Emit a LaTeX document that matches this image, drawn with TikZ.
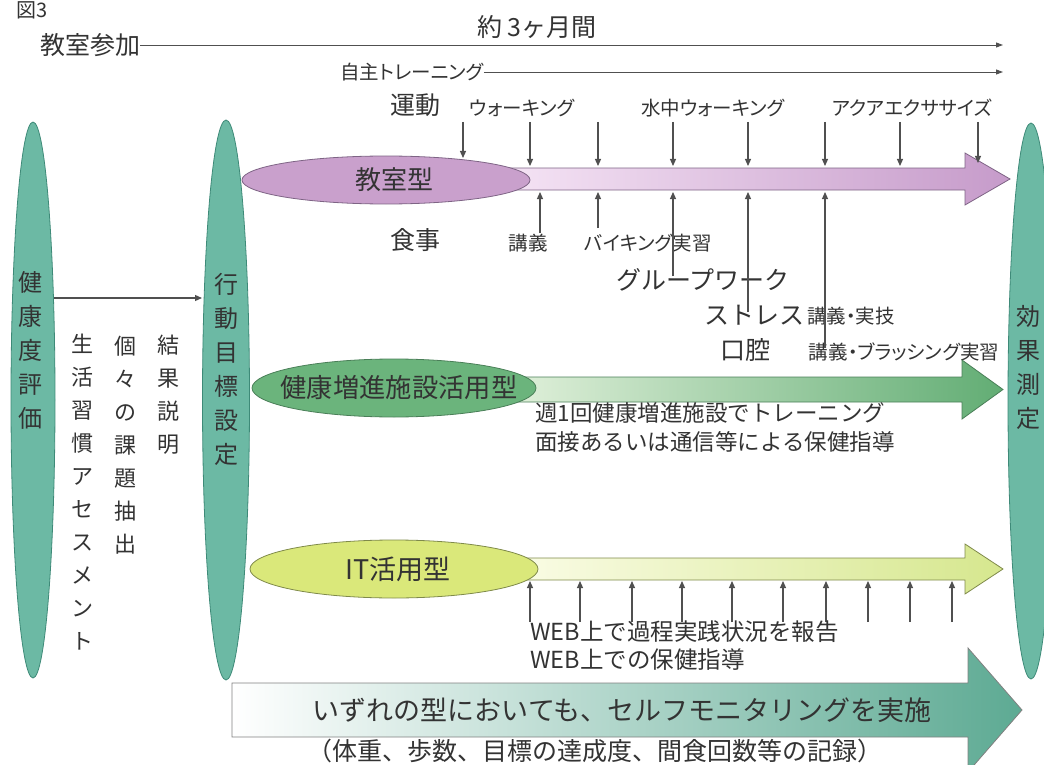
\documentclass[tikz,border=0pt]{standalone}
\usepackage{fontspec}
\setmainfont{Noto Sans CJK JP}
\newfontfamily\pfont{Noto Sans CJK JP}[RawFeature=+palt]
\usetikzlibrary{shapes.geometric,arrows.meta}
\definecolor{txt}{HTML}{333333}
\definecolor{lgray}{HTML}{505050}
\definecolor{tealfill}{HTML}{6CB9A4}
\definecolor{tealdark}{HTML}{3E8A78}
\definecolor{purpfill}{HTML}{C9A0CC}
\definecolor{purpdark}{HTML}{7E6485}
\definecolor{purpL}{HTML}{F5E4F5}
\definecolor{purpR}{HTML}{C69BCA}
\definecolor{grnfill}{HTML}{6BB47C}
\definecolor{grndark}{HTML}{4A7F58}
\definecolor{grnL}{HTML}{E0F0DA}
\definecolor{grnR}{HTML}{62AD74}
\definecolor{yelfill}{HTML}{DAE87A}
\definecolor{yeldark}{HTML}{7F8A4A}
\definecolor{yelL}{HTML}{FAFCE6}
\definecolor{yelR}{HTML}{D6E78E}
\definecolor{btmR}{HTML}{5DAA93}
\begin{document}
\begin{tikzpicture}[x=1pt,y=-1pt,
  big/.style={font=\fontsize{25}{28}\selectfont, text=txt, inner sep=0pt},
  small/.style={font=\pfont\fontsize{19.5}{22}\selectfont, text=txt, inner sep=0pt},
  mid/.style={font=\fontsize{22.5}{26}\selectfont, text=txt, inner sep=0pt},
  vtext/.style={font=\fontsize{24}{34}\selectfont, align=center, text=txt, inner sep=0pt},
  vtextb/.style={font=\fontsize{22}{33}\selectfont, align=center, text=txt, inner sep=0pt},
  arr/.style={draw=lgray, line width=1.2pt, -{Triangle[length=7pt,width=6pt]}},
  tl/.style={draw=lgray, line width=0.9pt, -{Triangle[length=7pt,width=5pt]}},
  bigell/.style={ellipse, draw=tealdark, fill=tealfill, line width=0.8pt, minimum width=44pt, minimum height=556pt, inner sep=0pt},
  typeell/.style={ellipse, line width=0.8pt, inner sep=0pt},
  typetext/.style={text=txt, inner sep=0pt},
  band/.style={line width=0.8pt}
]
\useasboundingbox (0,0) rectangle (1044,765);

% title
\node[font=\fontsize{20}{22}\selectfont, text=txt, anchor=west, inner sep=0pt] (fig) at (16,10) {図3};

% timelines
\node[big] (yaku) at (537,27) {約 3ヶ月間};
\node[big, anchor=west] (kyoshitsu) at (40,45) {教室参加};
\coordinate (kend) at (1003,45);
\draw[tl] (kyoshitsu.east) -- (kend);
\node[small, anchor=west] (jishu) at (340,72) {自主トレーニング};
\coordinate (jend) at (1003,72);
\draw[tl] (jishu.east) -- (jend);

% big ellipses
\node[bigell] (hyoka) at (33,400) {};
\node[vtext] (hyokat) at (31,350) {健\\康\\度\\評\\価};
\node[bigell, minimum width=47pt, minimum height=560pt] (mokuhyo) at (226,400) {};
\node[vtext] (mokuhyot) at (226,369) {行\\動\\目\\標\\設\\定};
\node[bigell, minimum width=46pt] (koka) at (1031,401) {};
\node[vtext] (kokat) at (1028,367) {効\\果\\測\\定};

\coordinate (ha) at (54,298);
\coordinate (hb) at (202,298);
\draw[arr] (ha) -- (hb);

\node[vtextb] (kekka) at (168,395) {結\\果\\説\\明};
\node[vtextb] (koko) at (125,445) {個\\々\\の\\課\\題\\抽\\出};
\node[vtextb] (seikatsu) at (82,492) {生\\活\\習\\慣\\ア\\セ\\ス\\メ\\ン\\ト};

% classroom type
\draw[band, draw=purpdark, left color=purpL, right color=purpR]
  (500,168) -- (965,168) -- (965,153) -- (1010,179) -- (965,205) -- (965,190) -- (500,190) -- cycle;
\node[typeell, draw=purpdark, fill=purpfill, minimum width=288pt, minimum height=48pt] (kgata) at (386,180) {};
\node[typetext, font=\fontsize{26}{28}\selectfont] (kgatat) at (394,180) {教室型};

\node[big] (undo) at (415,105) {運動};
\node[small] (walk) at (522,108) {ウォーキング};
\node[small] (swalk) at (713,108) {水中ウォーキング};
\node[small] (aqua) at (912,108) {アクアエクササイズ};

\foreach \x/\y [count=\i] in {463/158,530/166,598/166,673/166,748/166,825/166,900/166,978/163} {
  \coordinate (dt\i) at (\x,122);
  \coordinate (db\i) at (\x,\y);
  \draw[arr] (dt\i) -- (db\i);
}

\node[big] (shokuji) at (415,240) {食事};
\node[small] (kogi1) at (528,243) {講義};
\node[small] (viking) at (648,243) {バイキング実習};
\node[big] (group) at (703,280) {グループワーク};
\node[big] (stress) at (754,315) {ストレス};
\node[small] (kogi2) at (851,316) {講義・実技};
\node[big] (koku) at (745,350) {口腔};
\node[small] (kogi3) at (904,352) {講義・ブラッシング実習};

\foreach \x/\y [count=\i] in {540/233,598/228,673/276,748/312,825/348} {
  \coordinate (us\i) at (\x,\y);
  \coordinate (ue\i) at (\x,192);
  \draw[arr] (us\i) -- (ue\i);
}

% health facility type
\draw[band, draw=grndark, left color=grnL, right color=grnR]
  (510,377) -- (962,377) -- (962,360) -- (1003,389.5) -- (962,419) -- (962,402) -- (510,402) -- cycle;
\node[typeell, draw=grndark, fill=grnfill, minimum width=284pt, minimum height=58pt] (kenko) at (394,388) {};
\node[typetext, font=\fontsize{26.3}{28}\selectfont] (kenkot) at (399,388) {健康増進施設活用型};
\node[mid, anchor=west] (shu) at (535,413) {週1回健康増進施設でトレーニング};
\node[mid, anchor=west] (mensetsu) at (535,442) {面接あるいは通信等による保健指導};

% IT type
\draw[band, draw=yeldark, left color=yelL, right color=yelR]
  (510,558) -- (965,558) -- (965,544) -- (1003,569) -- (965,594) -- (965,580) -- (510,580) -- cycle;
\node[typeell, draw=yeldark, fill=yelfill, minimum width=288pt, minimum height=58pt] (itgata) at (394,569) {};
\node[typetext, font=\fontsize{27}{30}\selectfont] (itgatat) at (398,569) {IT活用型};
\foreach \x [count=\i] in {530,580,632,682,732,783,826,868,910,952} {
  \coordinate (is\i) at (\x,622);
  \coordinate (ie\i) at (\x,581);
  \draw[arr] (is\i) -- (ie\i);
}
\node[mid, font=\fontsize{23.5}{26}\selectfont, anchor=west] (web1) at (530,632) {WEB上で過程実践状況を報告};
\node[mid, font=\fontsize{23.5}{26}\selectfont, anchor=west] (web2) at (530,660) {WEB上での保健指導};

% bottom arrow
\draw[band, draw=gray, left color=white, right color=btmR]
  (232,683) -- (968,683) -- (968,648) -- (1022,710) -- (968,772) -- (968,737) -- (232,737) -- cycle;
\node[font=\fontsize{27}{30}\selectfont, text=txt, inner sep=0pt] (self) at (622,710) {いずれの型においても、セルフモニタリングを実施};
\node[font=\fontsize{25}{28}\selectfont, text=txt, inner sep=0pt] (kiroku) at (595,751) {（体重、歩数、目標の達成度、間食回数等の記録）};
\end{tikzpicture}
\end{document}
